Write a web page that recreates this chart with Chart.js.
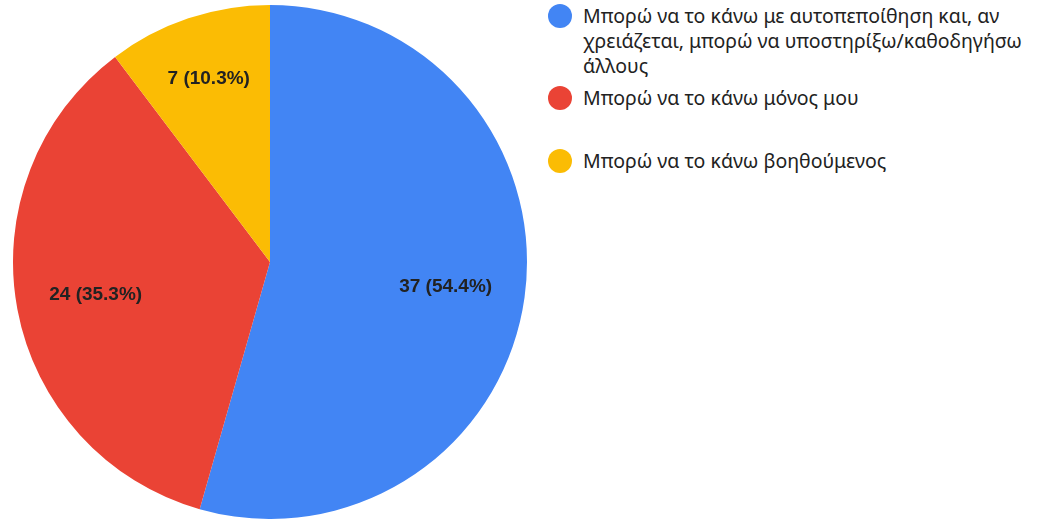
<!DOCTYPE html>
<html>
<head>
    <meta charset="utf-8">
    <title>Pie chart</title>
    <script src="https://cdn.jsdelivr.net/npm/chart.js"></script>
    <style>
        body {
            margin: 0;
            background: #fff;
            width: 1038px;
            height: 519px;
            overflow: hidden;
            position: relative;
            font-family: "Noto Sans", Roboto, sans-serif;
        }
        #wrap {
            position: absolute;
            left: 0;
            top: 0;
            width: 540px;
            height: 519px;
        }
        #legend {
            position: absolute;
            left: 548px;
            top: 3px;
            width: 490px;
        }
        .item {
            position: relative;
            padding-left: 35px;
            font-size: 19.5px;
            line-height: 25px;
            color: #222;
        }
        .dot {
            position: absolute;
            left: 0;
            top: 1px;
            width: 24px;
            height: 24px;
            border-radius: 50%;
        }
    </style>
</head>
<body>
    <div id="wrap"><canvas id="pie"></canvas></div>
    <div id="legend"></div>

    <script>
        const labels = [
            'Μπορώ να το κάνω με αυτοπεποίθηση και, αν χρειάζεται, μπορώ να υποστηρίξω/καθοδηγήσω άλλους',
            'Μπορώ να το κάνω μόνος μου',
            'Μπορώ να το κάνω βοηθούμενος'
        ];
        const counts = [37, 24, 7];
        const colors = ['#4285F4', '#EA4335', '#FBBC04'];

        // legend on the right, built as html so the long label can wrap
        const legendGaps = [0, 7, 38];
        const legend = document.getElementById('legend');
        labels.forEach((txt, i) => {
            const div = document.createElement('div');
            div.className = 'item';
            div.style.marginTop = legendGaps[i] + 'px';
            div.innerHTML = '<span class="dot" style="background:' + colors[i] + '"></span>' + txt;
            legend.appendChild(div);
        });

        const sliceLabels = {
            id: 'sliceLabels',
            afterDatasetsDraw(chart) {
                const ctx = chart.ctx;
                const data = chart.data.datasets[0].data;
                const total = data.reduce((a, b) => a + b, 0);
                ctx.save();
                ctx.font = 'bold 19px Arial, "Liberation Sans", sans-serif';
                ctx.fillStyle = '#222';
                ctx.textAlign = 'center';
                ctx.textBaseline = 'middle';
                chart.getDatasetMeta(0).data.forEach((arc, i) => {
                    const mid = (arc.startAngle + arc.endAngle) / 2;
                    const r = arc.outerRadius * (i === 2 ? 0.75 : 0.69);
                    const x = arc.x + Math.cos(mid) * r;
                    const y = arc.y + Math.sin(mid) * r;
                    const pct = (data[i] / total * 100).toFixed(1);
                    ctx.fillText(data[i] + ' (' + pct + '%)', x, y);
                });
                ctx.restore();
            }
        };

        new Chart(document.getElementById('pie'), {
            type: 'pie',
            data: {
                labels: labels,
                datasets: [{
                    data: counts,
                    backgroundColor: colors,
                    borderWidth: 0
                }]
            },
            options: {
                responsive: true,
                maintainAspectRatio: false,
                animation: false,
                layout: {
                    padding: { top: 5, left: 13, right: 13, bottom: 0 }
                },
                plugins: {
                    legend: { display: false },
                    tooltip: { enabled: false }
                }
            },
            plugins: [sliceLabels]
        });
    </script>
</body>
</html>
